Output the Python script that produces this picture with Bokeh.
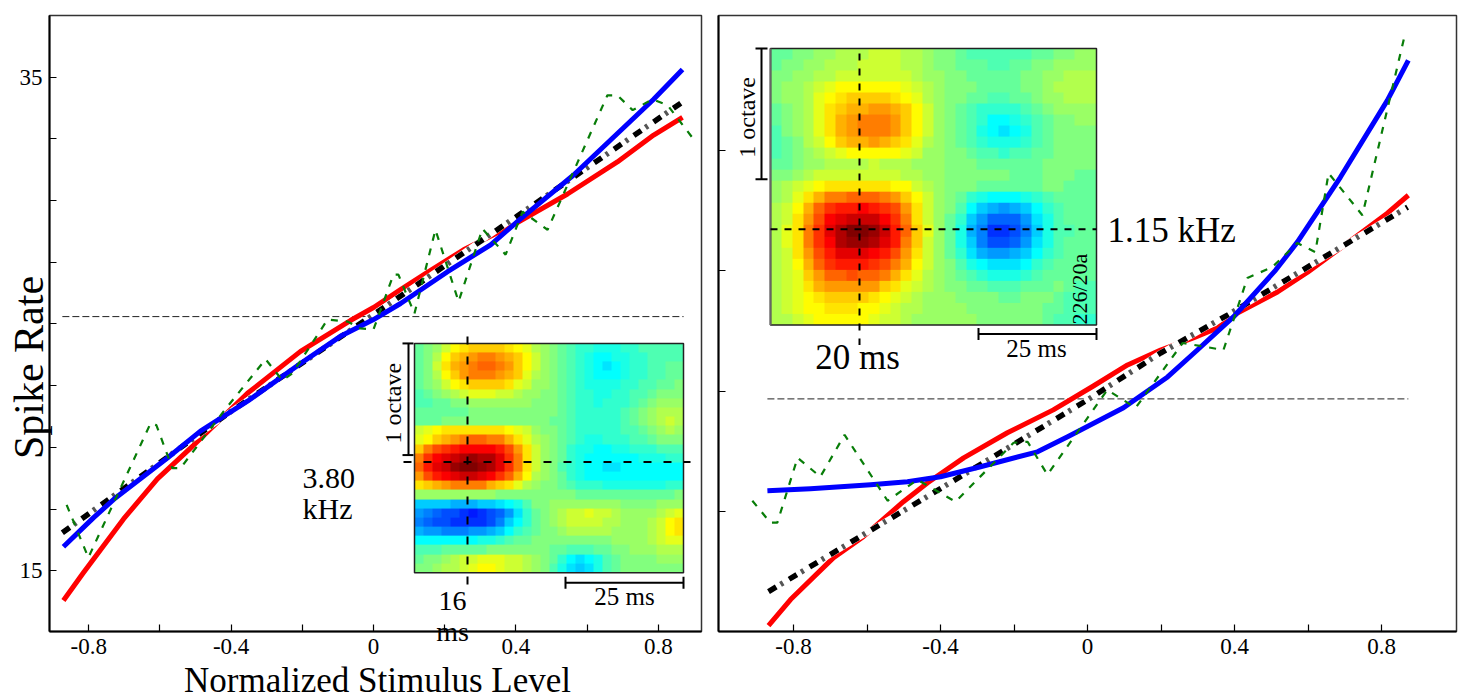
from bokeh.plotting import figure
from bokeh.layouts import row
from bokeh.models import Range1d, FixedTicker, Label, LinearColorMapper
from bokeh.embed import file_html
from bokeh.resources import INLINE
import numpy as np

# ---------- left panel data ----------
L_blue_x = [-0.871,-0.787,-0.725,-0.579,-0.486,-0.354,-0.205,-0.093,0,0.076,0.208,0.329,0.413,0.562,0.787,0.868]
L_blue_y = [15.97,17.14,17.95,19.57,20.66,21.87,23.4,24.5,25.18,25.83,27.12,28.21,29.26,31.04,34.11,35.32]
L_red_x = [-0.871,-0.815,-0.702,-0.607,-0.514,-0.354,-0.205,-0.065,0,0.076,0.146,0.253,0.393,0.545,0.685,0.787,0.868]
L_red_y = [13.79,14.92,17.1,18.72,19.97,22.19,23.89,25.14,25.67,26.39,27.04,28.01,29.02,30.27,31.57,32.66,33.38]
L_black_x = [-0.874,-0.4,0,0.4,0.871]
L_black_y = [16.54,21.46,25.38,29.34,34.03]
L_green_x = [-0.862,-0.801,-0.626,-0.610,-0.565,-0.542,-0.421,-0.303,-0.256,-0.228,-0.129,-0.073,-0.037,0,0.056,0.070,0.115,0.174,0.239,0.306,0.371,0.419,0.489,0.657,0.685,0.728,0.784,0.826,0.899]
L_green_y = [17.67,15.53,20.98,20.90,19.16,19.16,21.46,23.57,22.72,23.0,25.18,25.10,24.82,24.78,27.0,27.0,25.42,28.82,25.91,28.86,27.81,29.55,28.82,34.27,34.27,33.67,34.11,33.87,32.49]
L_spont_x = [-0.874,0.871]
L_spont_y = [25.30,25.30]
L_xticks = [-0.8,-0.4,0,0.4,0.8]
L_xminor = [-0.6,-0.2,0.2,0.6]
L_yticks = [15,35]
L_yminor = [17.5,20,22.5,25,27.5,30,32.5]

# ---------- right panel data ----------
R_red_x = [-0.868,-0.808,-0.691,-0.610,-0.501,-0.435,-0.337,-0.218,-0.093,0.016,0.109,0.199,0.288,0.354,0.408,0.517,0.599,0.688,0.816,0.873]
R_red_y = [0.55,2.71,6.19,7.93,10.83,12.40,14.47,16.55,18.45,20.43,22.18,23.42,24.42,25.24,26.49,28.23,29.88,31.87,34.77,36.26]
R_blue_x = [-0.871,-0.754,-0.590,-0.490,-0.400,-0.291,-0.136,-0.054,0.098,0.218,0.299,0.397,0.512,0.571,0.688,0.816,0.873]
R_blue_y = [11.74,11.91,12.24,12.49,12.90,13.73,14.97,16.21,18.62,21.18,23.42,26.16,30.05,32.37,37.75,44.13,47.45]
R_black_x = [-0.868,-0.610,-0.414,0,0.199,0.381,0.871]
R_black_y = [3.37,8.09,11.66,19.28,23.17,26.32,35.27]
R_green_x = [-0.912,-0.863,-0.844,-0.789,-0.727,-0.661,-0.544,-0.463,-0.359,-0.201,-0.163,-0.109,0.054,0.131,0.259,0.370,0.435,0.503,0.571,0.620,0.656,0.748,0.865]
R_green_y = [10.91,9.09,9.09,14.47,12.90,16.38,10.91,12.65,10.83,15.72,15.80,13.07,20.11,18.62,24.0,23.42,29.39,30.30,32.29,31.54,38.09,34.6,49.77]
R_spont_x = [-0.871,0.873]
R_spont_y = [19.36,19.36]
R_xticks = [-0.8,-0.4,0,0.4,0.8]
R_xminor = [-0.6,-0.2,0.2,0.6]
R_yminor = [0,10,20,30,40]

# ---------- STRF insets (top row first, -20..20 on the jet scale) ----------
L_strf = [
[-1,0,1,3,5,6,7,7,7,7,6,5,4,2,1,0,-1,-2,-3,-3,-4,-4,-4,-3,-3,-2,-2,-2,-2,-2],
[-1,0,2,5,7,8,9,10,10,9,8,7,5,3,1,0,-1,-2,-3,-4,-5,-5,-4,-4,-3,-3,-2,-2,-2,-2],
[-1,0,3,6,8,9,10,11,11,10,9,7,5,3,1,0,-1,-2,-3,-4,-5,-6,-5,-4,-3,-3,-2,-2,-1,-1],
[-1,0,2,5,7,9,10,10,10,9,8,7,4,2,1,0,-1,-2,-3,-4,-5,-5,-5,-4,-3,-3,-2,-2,-1,-1],
[-1,0,1,3,5,6,7,7,7,7,6,4,3,1,1,0,-1,-2,-3,-4,-4,-4,-4,-3,-3,-2,-2,-1,-1,0],
[-2,-1,0,1,2,3,4,4,4,3,3,2,1,1,0,0,-1,-2,-3,-3,-4,-4,-3,-3,-2,-2,-1,0,0,0],
[-2,-2,-1,-1,0,0,1,1,1,1,1,1,1,0,0,0,-1,-2,-3,-3,-4,-3,-3,-3,-2,-1,0,1,1,1],
[-1,-1,-1,-1,-1,-1,0,0,0,0,0,0,0,0,0,0,-1,-2,-3,-3,-3,-3,-3,-2,-1,0,1,2,2,2],
[-1,-1,-1,0,0,0,0,0,0,0,0,0,0,0,0,-1,-1,-2,-3,-3,-3,-3,-3,-2,-1,0,1,2,3,2],
[3,4,5,6,6,6,6,6,6,6,5,4,3,1,0,0,-1,-2,-3,-3,-3,-3,-3,-2,-2,-1,0,1,2,1],
[4,5,7,8,9,10,11,11,10,10,8,6,4,2,1,0,-1,-2,-3,-4,-4,-3,-3,-3,-2,-2,-1,0,0,0],
[7,10,12,13,14,15,15,15,15,14,12,9,6,3,1,0,-1,-3,-4,-4,-5,-5,-4,-4,-3,-3,-3,-2,-2,-2],
[10,13,15,16,17,18,19,18,18,16,13,10,6,3,1,0,-1,-3,-4,-5,-5,-5,-5,-5,-5,-4,-4,-4,-3,-3],
[11,14,16,17,19,20,20,19,18,16,13,10,6,3,1,0,-2,-3,-4,-5,-5,-6,-6,-5,-5,-5,-5,-5,-5,-5],
[9,12,14,15,16,17,17,16,15,13,11,8,5,2,1,0,-1,-3,-4,-5,-5,-5,-5,-5,-5,-5,-5,-5,-5,-5],
[6,7,8,9,10,10,10,10,8,7,6,4,2,1,0,0,-1,-2,-3,-3,-3,-4,-4,-4,-4,-4,-4,-4,-3,-3],
[1,1,1,1,1,1,1,1,1,0,0,0,0,0,0,0,0,0,-1,-1,-1,-1,-1,-1,-1,-1,-1,-1,-1,0],
[-7,-7,-7,-7,-8,-8,-8,-7,-7,-6,-5,-4,-2,0,0,1,1,1,1,1,1,1,1,0,0,0,0,1,1,1],
[-9,-10,-11,-12,-12,-13,-14,-13,-12,-11,-9,-6,-3,-1,0,1,2,3,3,4,3,3,2,1,1,1,1,2,3,4],
[-10,-11,-12,-12,-13,-13,-13,-13,-12,-10,-7,-5,-3,-1,0,1,2,3,3,3,3,2,2,1,1,1,2,3,5,6],
[-8,-9,-9,-10,-10,-10,-9,-9,-8,-7,-5,-3,-2,-1,0,0,1,2,2,2,2,2,1,1,1,1,2,3,5,6],
[-5,-5,-5,-5,-5,-5,-5,-4,-4,-3,-2,-1,-1,0,0,0,0,0,0,0,0,0,1,1,1,1,2,3,4,4],
[-2,-2,-2,-1,-1,-1,-1,-1,0,0,0,0,0,0,0,-1,-1,-2,-2,-2,-1,-1,0,0,1,1,1,2,2,2],
[-1,0,0,1,2,3,3,4,4,4,3,3,2,1,0,-1,-3,-5,-6,-5,-4,-2,-1,0,0,0,0,1,1,1],
[0,0,1,2,2,3,4,5,5,4,3,3,2,1,0,-2,-4,-6,-7,-6,-4,-2,-1,0,0,0,0,0,0,0],
]
R_strf = [
[-1,-1,0,0,1,1,2,2,2,3,3,3,2,2,1,0,0,-1,-2,-2,-2,-2,-2,-2,-1,-1,0,0,1,1],
[-1,0,0,1,1,2,2,2,3,3,3,3,2,2,1,0,0,-1,-1,-1,-2,-2,-1,-1,0,0,1,1,1,1],
[0,0,1,1,2,2,3,3,3,3,3,3,3,2,1,1,0,0,-1,-1,-1,-1,-1,0,0,1,1,2,2,2],
[0,1,1,2,3,4,5,5,5,5,5,5,4,3,2,1,0,0,0,-1,-1,-1,-1,0,0,1,2,2,2,2],
[0,1,1,2,4,5,6,7,7,7,7,6,5,4,2,1,0,0,-1,-1,-2,-2,-1,-1,0,1,1,2,2,2],
[-1,0,1,2,4,6,7,8,8,9,9,8,7,5,3,1,0,-1,-2,-3,-3,-3,-3,-2,-1,0,1,1,1,1],
[-1,0,1,2,4,6,8,9,10,10,10,9,7,5,3,1,0,-1,-2,-3,-5,-5,-4,-3,-2,-1,0,0,1,1],
[-2,0,1,2,4,6,8,9,10,10,10,9,7,5,3,1,0,-1,-2,-4,-5,-6,-5,-4,-2,-1,0,0,0,0],
[-2,-1,0,2,3,5,7,8,8,9,8,7,6,4,2,1,0,-1,-2,-3,-4,-4,-4,-3,-2,-1,0,0,0,0],
[-2,-1,0,1,2,3,4,5,5,5,5,5,4,3,1,1,0,0,-1,-2,-2,-3,-2,-2,-1,-1,0,0,0,0],
[-1,-1,0,1,1,2,2,2,2,3,2,2,2,1,1,1,0,0,0,-1,-1,-1,-1,-1,-1,0,0,0,0,0],
[0,0,1,2,3,3,3,3,3,3,3,3,2,2,1,1,0,0,0,0,0,0,-1,-1,-1,0,0,0,-1,-1],
[1,2,3,4,5,6,6,6,6,6,6,5,5,3,2,1,0,0,0,-1,-1,-1,-1,-1,-1,0,0,-1,-1,-1],
[1,2,4,6,8,10,10,11,11,11,10,9,7,5,3,1,0,-1,-3,-4,-5,-5,-5,-4,-3,-2,-1,-1,-1,-1],
[2,3,5,8,11,13,14,14,15,14,13,12,9,6,3,1,0,-2,-5,-7,-8,-9,-8,-7,-5,-3,-2,-1,-1,-1],
[2,3,6,9,12,15,16,17,17,17,15,13,10,6,3,1,-1,-3,-7,-9,-11,-11,-11,-9,-6,-4,-2,-1,-1,-1],
[2,4,6,10,13,16,18,20,20,19,17,14,11,7,4,1,-1,-4,-8,-10,-13,-13,-12,-10,-7,-4,-2,-2,-1,-1],
[2,4,6,10,13,15,18,19,19,18,16,14,10,7,3,1,-1,-4,-7,-10,-12,-12,-11,-9,-6,-4,-2,-1,-1,-1],
[2,3,6,9,12,14,16,16,16,15,14,12,9,6,3,1,-1,-3,-6,-8,-9,-9,-8,-7,-5,-3,-2,-1,-1,-1],
[2,3,5,8,11,13,14,14,14,13,12,10,8,5,3,1,0,-2,-4,-5,-6,-6,-6,-5,-3,-2,-1,-1,-1,-1],
[2,3,4,7,9,11,11,12,11,11,10,8,6,4,2,1,0,-1,-2,-3,-4,-4,-4,-3,-2,-1,-1,-1,-1,-1],
[2,3,4,6,8,9,9,9,9,9,7,6,4,3,2,1,0,0,-1,-1,-2,-2,-2,-1,-1,-1,0,-1,-2,-2],
[2,3,4,5,6,7,7,7,7,6,5,4,3,2,1,1,1,0,0,0,0,-1,-1,0,0,0,-1,-2,-2,-2],
[2,3,4,5,5,6,6,6,5,5,4,3,2,2,1,1,1,1,0,0,0,0,0,0,0,-1,-1,-2,-2,-2],
[2,2,3,4,5,5,5,5,5,4,3,3,2,1,1,1,1,1,1,0,0,0,0,0,0,-1,-2,-2,-3,-3],
]

FONT = "Liberation Serif"

def jet(n=256):
    out = []
    for t in np.linspace(0, 1, n):
        c = [min(1, max(0, 1.5 - abs(4*t - k))) for k in (3, 2, 1)]
        out.append("#%02x%02x%02x" % tuple(int(round(255*v)) for v in c))
    return out
mapper = LinearColorMapper(palette=jet(), low=-20, high=20)

def plain_labels(ticks):
    return {t: ("0" if t == 0 else "%.1f" % t) for t in ticks}

def base(width, border_l, border_r, border_t, border_b, xr, yr, ticks, minor, yticks, yminor):
    p = figure(width=width, height=699, x_range=Range1d(*xr), y_range=Range1d(*yr),
               output_backend="svg", toolbar_location=None,
               min_border_left=border_l, min_border_right=border_r,
               min_border_top=border_t, min_border_bottom=border_b)
    p.grid.visible = False
    p.outline_line_color = "#333333"
    p.outline_line_width = 1.5
    p.xaxis.ticker = FixedTicker(ticks=ticks, minor_ticks=minor)
    p.yaxis.ticker = FixedTicker(ticks=yticks, minor_ticks=yminor)
    for ax in (p.xaxis[0], p.yaxis[0]):
        ax.axis_line_color = "black"
        ax.axis_line_width = 2
        ax.major_tick_in = 7
        ax.major_tick_out = 0
        ax.minor_tick_in = 7
        ax.minor_tick_out = 0
        ax.major_tick_line_color = "black"
        ax.minor_tick_line_color = "black"
        ax.major_tick_line_width = 1.2
        ax.minor_tick_line_width = 1.2
        ax.major_label_text_font = FONT
        ax.major_label_text_font_size = "23px"
        ax.major_label_text_color = "black"
        ax.major_label_standoff = 7
    p.xaxis[0].major_label_overrides = plain_labels(ticks)
    return p

def curves(p, red, black, blue, green, spont):
    p.line(spont[0], spont[1], line_color="#222222", line_width=1, line_dash="7 3")
    p.line(red[0], red[1], line_color="#ff0000", line_width=5, line_join="round")
    p.line(black[0], black[1], line_color="#ffffff", line_width=6)
    p.line(black[0], black[1], line_color="#000000", line_width=5.5, line_dash="9 15")
    p.line(black[0], black[1], line_color="#555555", line_width=5.5, line_dash="3 21", line_dash_offset=-14)
    p.line(blue[0], blue[1], line_color="#0000ff", line_width=5, line_join="round")
    p.line(green[0], green[1], line_color="#087d08", line_width=2.2, line_dash="7 8")

def lab(p, x, y, text, size, align="center", angle=0):
    p.add_layout(Label(x=x, y=y, text=text, text_font=FONT, text_font_size=size,
                       text_color="black", text_align=align, text_baseline="middle", angle=angle, angle_units="deg"))

# ---------- left panel ----------
LX = lambda px: (px - 373) / 356
LY = lambda py: 35 - (py - 75) / 24.75
left = base(710, 49, 9, 13, 68, (LX(49), LX(701)), (LY(631), LY(13)), L_xticks, L_xminor, L_yticks, L_yminor)
curves(left, (L_red_x, L_red_y), (L_black_x, L_black_y), (L_blue_x, L_blue_y), (L_green_x, L_green_y), (L_spont_x, L_spont_y))

left.image(image=[np.array(L_strf, dtype=float)[::-1]], x=LX(414), y=LY(572),
           dw=LX(683)-LX(414), dh=LY(342)-LY(572), color_mapper=mapper)
left.quad(left=LX(414), right=LX(683), bottom=LY(572), top=LY(342), fill_color=None, line_color="#222222", line_width=1.5)
left.line([LX(467), LX(467)], [LY(335), LY(590)], line_color="black", line_width=2, line_dash="8 12")
left.line([LX(403), LX(690)], [LY(461), LY(461)], line_color="black", line_width=2, line_dash="8 12")
left.segment([LX(408), LX(402), LX(402), LX(565), LX(565), LX(683)],
             [LY(342), LY(342), LY(454), LY(582), LY(576), LY(576)],
             [LX(408), LX(413), LX(413), LX(683), LX(565), LX(683)],
             [LY(454), LY(342), LY(454), LY(582), LY(588), LY(588)],
             line_color="black", line_width=2)

lab(left, LX(302), LY(478), "3.80", "30px", "left")
lab(left, LX(302), LY(508), "kHz", "30px", "left")
lab(left, LX(452), LY(600), "16", "28px")
lab(left, LX(624), LY(596), "25 ms", "25px")
lab(left, LX(392), LY(402), "1 octave", "24px", angle=90)

# ---------- right panel ----------
RX = lambda px: (px - 1087) / 367.5
RY = lambda py: (632.7 - py) / 12.07
right = base(750, 8, 4, 15, 67, (RX(718), RX(1456)), (RY(632), RY(15)), R_xticks, R_xminor, [], R_yminor)
curves(right, (R_red_x, R_red_y), (R_black_x, R_black_y), (R_blue_x, R_blue_y), (R_green_x, R_green_y), (R_spont_x, R_spont_y))

right.image(image=[np.array(R_strf, dtype=float)[::-1]], x=RX(770), y=RY(325),
            dw=RX(1096)-RX(770), dh=RY(48)-RY(325), color_mapper=mapper)
right.quad(left=RX(770), right=RX(1096), bottom=RY(325), top=RY(48), fill_color=None, line_color="#222222", line_width=1.5)
right.line([RX(770), RX(770)], [RY(48), RY(325)], line_color="#666666", line_width=2)
right.line([RX(859), RX(859)], [RY(53), RY(345)], line_color="black", line_width=2, line_dash="7 8")
right.line([RX(770), RX(1096)], [RY(229), RY(229)], line_color="black", line_width=2, line_dash="7 7")
right.segment([RX(761), RX(755), RX(755), RX(978), RX(978), RX(1096)],
              [RY(48), RY(48), RY(179), RY(334), RY(328), RY(328)],
              [RX(761), RX(767), RX(767), RX(1096), RX(978), RX(1096)],
              [RY(179), RY(48), RY(179), RY(334), RY(340), RY(340)],
              line_color="black", line_width=2)
lab(right, RX(1107), RY(230), "1.15 kHz", "35px", "left")
lab(right, RX(857), RY(358), "20 ms", "35px")
lab(right, RX(1036), RY(349), "25 ms", "25px")
lab(right, RX(746), RY(117), "1 octave", "24px", angle=90)
lab(right, RX(1079), RY(289), "226/20a", "22px", angle=90)

# ---------- transparent sheet on top, for texts that lie outside the plot frames ----------
sheet = figure(width=1460, height=699, x_range=Range1d(0, 1460), y_range=Range1d(699, 0),
               x_axis_type=None, y_axis_type=None, output_backend="svg", toolbar_location=None,
               min_border=0, outline_line_color=None, background_fill_color=None, border_fill_color=None,
               styles={"position": "absolute", "top": "0px", "left": "0px", "pointer-events": "none"})
sheet.grid.visible = False
lab(sheet, 28, 367, "Spike Rate", "42px", angle=90)
lab(sheet, 377, 680, "Normalized Stimulus Level", "35px")
lab(sheet, 452, 631, "ms", "28px")

page = row(left, right)
open("out.html", "w").write(file_html([page, sheet], INLINE))
